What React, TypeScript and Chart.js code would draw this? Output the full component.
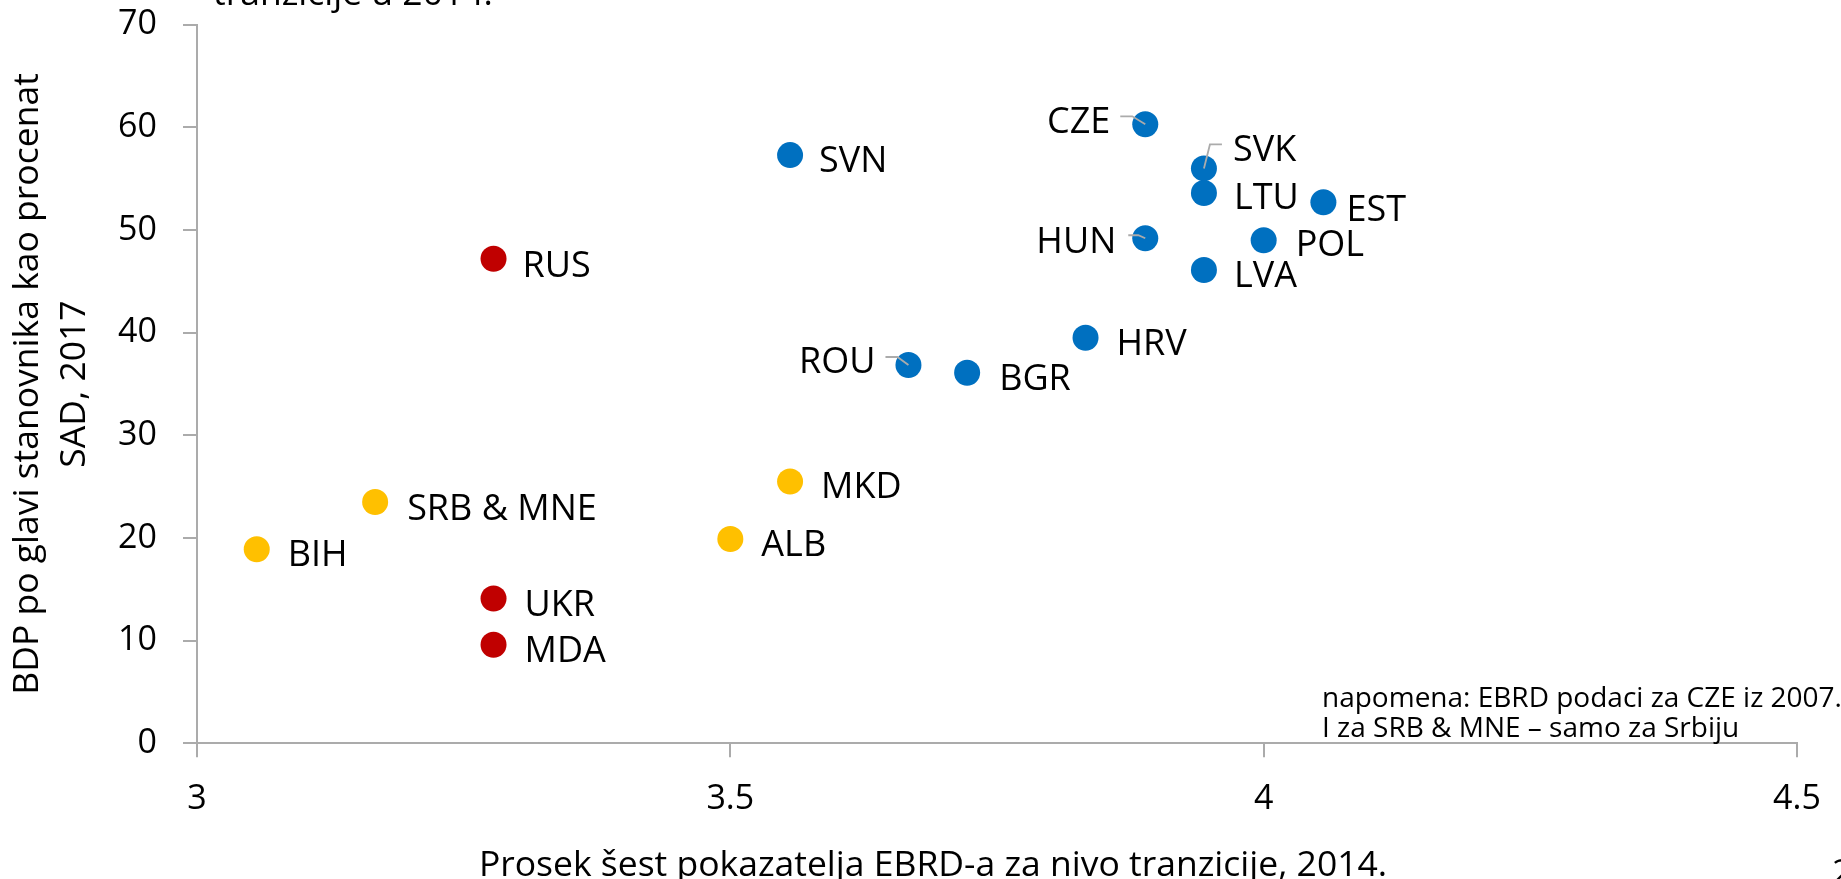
import React, { useEffect, useRef } from 'react';
import { Chart, registerables } from 'chart.js';

Chart.register(...registerables);

const FONT = "'Open Sans', 'Noto Sans', sans-serif";

// ---- data ----
const blueCountries = ['SVN', 'ROU', 'BGR', 'HRV', 'CZE', 'HUN', 'SVK', 'LTU', 'LVA', 'POL', 'EST'];
const blueX = [3.556, 3.667, 3.722, 3.833, 3.889, 3.889, 3.944, 3.944, 3.944, 4.0, 4.056];
const blueY = [57.3, 36.85, 36.1, 39.5, 60.3, 49.2, 56.0, 53.6, 46.1, 49.0, 52.7];

const redCountries = ['RUS', 'UKR', 'MDA'];
const redX = [3.278, 3.278, 3.278];
const redY = [47.2, 14.1, 9.6];

const yellowCountries = ['BIH', 'SRB & MNE', 'ALB', 'MKD'];
const yellowX = [3.056, 3.167, 3.5, 3.556];
const yellowY = [18.9, 23.5, 19.9, 25.5];

const xTickValues = [3, 3.5, 4, 4.5];
const xTickLabels = ['3', '3.5', '4', '4.5'];
const yTickValues = [0, 10, 20, 30, 40, 50, 60, 70];
const yTickLabels = ['0', '10', '20', '30', '40', '50', '60', '70'];

const xTitle = 'Prosek šest pokazatelja EBRD-a za nivo tranzicije, 2014.';
const yTitleLines = ['BDP po glavi stanovnika kao procenat', 'SAD, 2017'];
const topText = 'tranzicije u 2014.';
const noteLines = ['napomena: EBRD podaci za CZE iz 2007.', 'I za SRB & MNE – samo za Srbiju'];
const pageNumber = '2';

// ---- styling / label placement (pixel offsets from each point) ----
type Place = { dx: number; dy: number; align?: 'left' | 'right'; leader?: number[][] };
const placement: Record<string, Place> = {
  BIH: { dx: 31, dy: 4 },
  'SRB & MNE': { dx: 32, dy: 5 },
  UKR: { dx: 31, dy: 5 },
  MDA: { dx: 31, dy: 4 },
  RUS: { dx: 29, dy: 5 },
  ALB: { dx: 31, dy: 4 },
  MKD: { dx: 31, dy: 4 },
  SVN: { dx: 29, dy: 4 },
  ROU: { dx: -33, dy: -5, align: 'right', leader: [[-23, -8], [-11, -8], [0, 0]] },
  BGR: { dx: 32, dy: 4 },
  HRV: { dx: 31, dy: 4 },
  CZE: { dx: -35, dy: -4, align: 'right', leader: [[-25, -8], [-13, -8], [0, 0]] },
  HUN: { dx: -29, dy: 2, align: 'right', leader: [[-17, -3], [-7, -3], [0, 0]] },
  SVK: { dx: 29, dy: -20, leader: [[18, -24], [6, -24], [0, 0]] },
  LTU: { dx: 30, dy: 3 },
  LVA: { dx: 30, dy: 4 },
  POL: { dx: 32, dy: 3 },
  EST: { dx: 23, dy: 6 },
};

const W = 1841;
const H = 879;
const PLOT_TOP = 24.7;
const PLOT_BOTTOM = 743.3;
const PLOT_LEFT = 197;
const PLOT_RIGHT = 1797;
const AXIS_COLOR = '#ABABAB';
const LABEL_SIZE = 36;
const TICK_SIZE = 34;
const TITLE_SIZE = 35.5;
const NOTE_SIZE = 28;

const countryLists = [blueCountries, redCountries, yellowCountries];

const textPlugin = {
  id: 'textPlugin',
  beforeDraw(chart: any) {
    const ctx = chart.ctx;
    ctx.save();
    ctx.fillStyle = '#ffffff';
    ctx.fillRect(0, 0, chart.width, chart.height);
    ctx.restore();
  },
  afterDatasetsDraw(chart: any) {
    const ctx = chart.ctx;
    ctx.save();
    chart.data.datasets.forEach((_ds: any, di: number) => {
      const meta = chart.getDatasetMeta(di);
      const names = countryLists[di];
      meta.data.forEach((el: any, i: number) => {
        const name = names[i];
        const p = placement[name];
        if (!p) return;
        if (p.leader) {
          ctx.strokeStyle = AXIS_COLOR;
          ctx.lineWidth = 1.8;
          ctx.beginPath();
          p.leader.forEach((pt, k) => {
            const lx = el.x + pt[0];
            const ly = el.y + pt[1];
            if (k === 0) ctx.moveTo(lx, ly);
            else ctx.lineTo(lx, ly);
          });
          ctx.stroke();
        }
        ctx.fillStyle = '#000000';
        ctx.font = `${LABEL_SIZE}px ${FONT}`;
        ctx.textAlign = p.align || 'left';
        ctx.textBaseline = 'alphabetic';
        ctx.fillText(name, el.x + p.dx, el.y + p.dy + LABEL_SIZE * 0.357);
      });
    });
    ctx.restore();
  },
  afterDraw(chart: any) {
    const ctx = chart.ctx;
    ctx.save();
    ctx.fillStyle = '#000000';
    ctx.textBaseline = 'alphabetic';

    // x title
    ctx.font = `${TITLE_SIZE}px ${FONT}`;
    ctx.textAlign = 'center';
    ctx.fillText(xTitle, 933, 876);

    // top cut-off text
    ctx.textAlign = 'left';
    ctx.fillText(topText, 213, 5);

    // page number
    ctx.fillText(pageNumber, 1832, 884);

    // y title
    const yc = (chart.chartArea.top + chart.chartArea.bottom) / 2;
    const baselines = [38, 85];
    yTitleLines.forEach((line, i) => {
      ctx.save();
      ctx.translate(baselines[i], yc);
      ctx.rotate(-Math.PI / 2);
      ctx.textAlign = 'center';
      ctx.fillText(line, 0, 0);
      ctx.restore();
    });

    // note
    ctx.font = `${NOTE_SIZE}px ${FONT}`;
    ctx.textAlign = 'left';
    ctx.fillText(noteLines[0], 1322, 707);
    ctx.fillText(noteLines[1], 1322, 737);

    ctx.restore();
  },
};

export default function App() {
  const canvasRef = useRef<HTMLCanvasElement | null>(null);

  useEffect(() => {
    const canvas = canvasRef.current;
    if (!canvas) return;

    const point = (xs: number[], ys: number[]) => xs.map((x, i) => ({ x, y: ys[i] }));
    const tickFont = { family: FONT, size: TICK_SIZE };
    const grid = {
      display: true,
      drawOnChartArea: false,
      drawTicks: true,
      tickLength: 14,
      color: AXIS_COLOR,
      lineWidth: 2,
    };
    const border = { display: true, color: AXIS_COLOR, width: 2 };

    const chart = new Chart(canvas, {
      type: 'scatter',
      data: {
        datasets: [
          { label: 'blue', data: point(blueX, blueY), backgroundColor: '#0070C0', borderWidth: 0, pointRadius: 13, pointHoverRadius: 13 },
          { label: 'red', data: point(redX, redY), backgroundColor: '#C00000', borderWidth: 0, pointRadius: 13, pointHoverRadius: 13 },
          { label: 'yellow', data: point(yellowX, yellowY), backgroundColor: '#FFC000', borderWidth: 0, pointRadius: 13, pointHoverRadius: 13 },
        ],
      },
      options: {
        responsive: false,
        animation: false,
        devicePixelRatio: 1,
        events: [],
        layout: { padding: { left: 0, right: W - PLOT_RIGHT, top: PLOT_TOP, bottom: 0 } },
        plugins: { legend: { display: false }, tooltip: { enabled: false } },
        scales: {
          x: {
            type: 'linear',
            min: xTickValues[0],
            max: xTickValues[xTickValues.length - 1],
            afterBuildTicks: (s: any) => {
              s.ticks = xTickValues.map((v) => ({ value: v }));
            },
            afterFit: (s: any) => {
              s.height = H - PLOT_BOTTOM;
              s.paddingLeft = 0;
              s.paddingRight = 0;
            },
            ticks: {
              font: tickFont,
              color: '#000000',
              padding: 22,
              maxRotation: 0,
              autoSkip: false,
              callback: (v: any) => xTickLabels[xTickValues.indexOf(Number(v))] ?? String(v),
            },
            grid,
            border,
          },
          y: {
            type: 'linear',
            min: yTickValues[0],
            max: yTickValues[yTickValues.length - 1],
            afterBuildTicks: (s: any) => {
              s.ticks = yTickValues.map((v) => ({ value: v }));
            },
            afterFit: (s: any) => {
              s.width = PLOT_LEFT;
              s.paddingTop = 0;
              s.paddingBottom = 0;
            },
            ticks: {
              font: tickFont,
              color: '#000000',
              padding: 26,
              autoSkip: false,
              callback: (v: any) => yTickLabels[yTickValues.indexOf(Number(v))] ?? String(v),
            },
            grid,
            border,
          },
        },
      } as any,
      plugins: [textPlugin],
    });

    return () => chart.destroy();
  }, []);

  return (
    <div style={{ position: 'fixed', left: 0, top: 0, width: W, height: H, background: '#ffffff', overflow: 'hidden' }}>
      <canvas ref={canvasRef} width={W} height={H} style={{ display: 'block', width: W, height: H }} />
    </div>
  );
}
